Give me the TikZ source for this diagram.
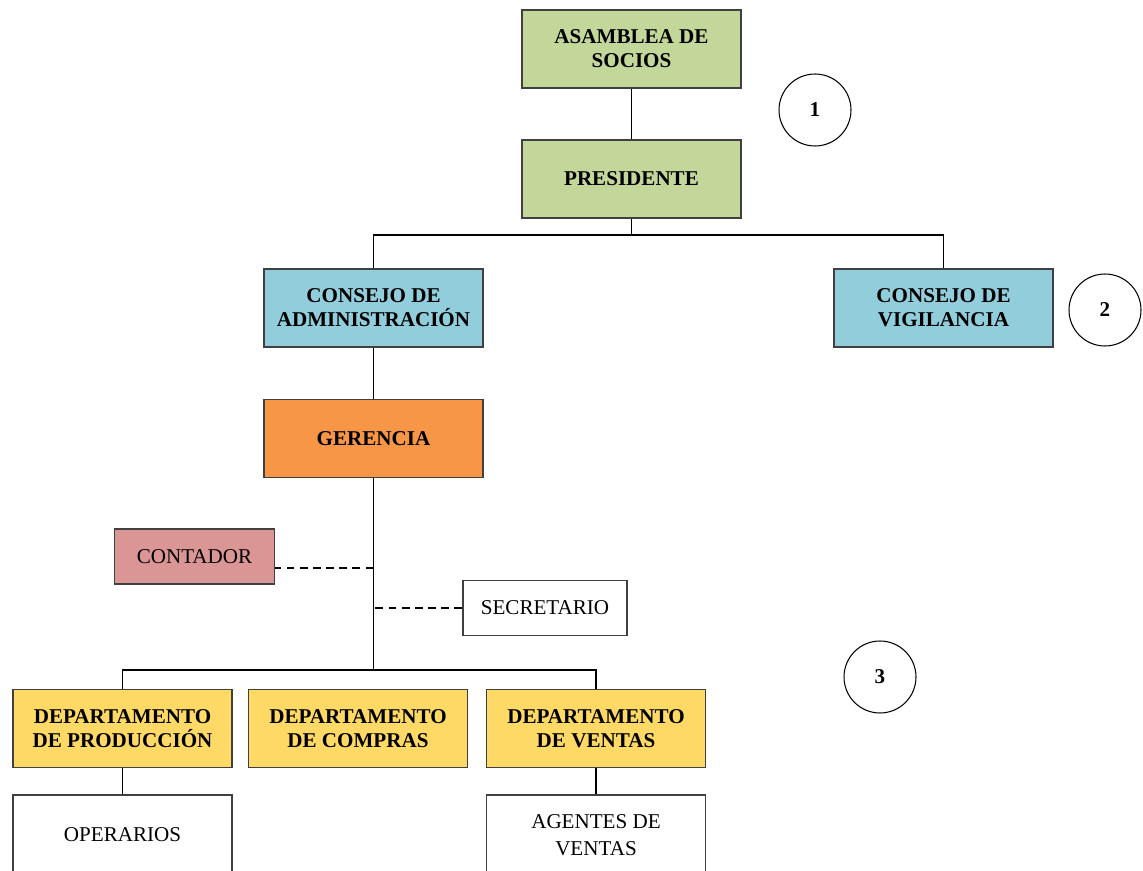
\documentclass[tikz,border=0pt]{standalone}
\usepackage{fontspec}
\setmainfont{Liberation Serif}
\usepackage{tikz}
\usetikzlibrary{positioning, calc}
\definecolor{socioverde}{RGB}{196, 215, 155}
\definecolor{consejoazul}{RGB}{146, 205, 220}
\definecolor{gerencianaranja}{RGB}{247, 150, 70}
\definecolor{contadorrosa}{RGB}{217, 150, 148}
\definecolor{deptoamarillo}{RGB}{255, 217, 102}
\definecolor{bordegris}{RGB}{64, 64, 64}

\begin{document}
\begin{tikzpicture}[
    x=0.02cm, y=-0.02cm,
    box/.style={rectangle, draw=bordegris, line width=0.8pt, minimum width=4.38cm, minimum height=1.56cm, align=center, font=\fontsize{12}{13.6}\selectfont\bfseries, inner sep=2pt},
    staff/.style={rectangle, draw=bordegris, line width=0.8pt, minimum width=3.2cm, minimum height=1.1cm, align=center, font=\fontsize{12}{14}\selectfont},
    low/.style={rectangle, draw=bordegris, line width=0.8pt, minimum width=4.38cm, minimum height=1.6cm, align=center, font=\fontsize{12}{15}\selectfont, fill=white},
    nivel/.style={circle, draw=black, line width=0.6pt, minimum size=1.44cm, font=\fontsize{12}{14}\selectfont\bfseries},
    line/.style={draw=black, line width=0.7pt},
    dashline/.style={draw=black, line width=0.7pt, dash pattern=on 4.5pt off 3pt}
]
    \useasboundingbox (0,0) rectangle (1143,871);

    % Nivel 1
    \node[box, fill=socioverde] (asamblea) at (631.5, 49) {ASAMBLEA DE\\SOCIOS};
    \node[box, fill=socioverde] (presidente) at (631.5, 179) {PRESIDENTE};
    \node[nivel] (uno) at (815, 110) {1};

    % Nivel 2
    \node[box, fill=consejoazul] (consejoadm) at (373.5, 308) {CONSEJO DE\\ADMINISTRACIÓN};
    \node[box, fill=consejoazul] (consejovig) at (943.5, 308) {CONSEJO DE\\VIGILANCIA};
    \node[nivel] (dos) at (1105, 310) {2};

    % Nivel 3
    \node[box, fill=gerencianaranja] (gerencia) at (373.5, 438.5) {GERENCIA};
    \node[staff, fill=contadorrosa] (contador) at (194.5, 556.5) {CONTADOR};
    \node[staff, fill=white, minimum width=3.28cm] (secretario) at (545, 608) {SECRETARIO};
    \node[nivel] (tres) at (880, 677) {3};

    \node[box, fill=deptoamarillo] (produccion) at (122.5, 728.5) {DEPARTAMENTO\\DE PRODUCCIÓN};
    \node[box, fill=deptoamarillo] (compras) at (358, 728.5) {DEPARTAMENTO\\DE COMPRAS};
    \node[box, fill=deptoamarillo] (ventas) at (596, 728.5) {DEPARTAMENTO\\DE VENTAS};

    \node[low] (operarios) at (122.5, 835) {OPERARIOS};
    \node[low] (agentes) at (596, 835) {AGENTES DE\\VENTAS};

    % Lineas
    \coordinate (barra1) at (631.5, 235);
    \coordinate (barra2) at (373.5, 670);
    \coordinate (apoyo) at (373.5, 568);

    \draw[line] (asamblea) -- (presidente);
    \draw[line] (presidente) -- (barra1);
    \draw[line] (consejoadm.north) |- (barra1) -| (consejovig.north);
    \draw[line] (consejoadm) -- (gerencia);
    \draw[line] (gerencia) -- (barra2);
    \draw[line] (produccion.north) |- (barra2) -| (ventas.north);
    \draw[dashline] (apoyo) -- (apoyo -| contador.east);
    \draw[dashline] (secretario.west) -- (secretario.west -| gerencia.south);
    \draw[line] (produccion) -- (operarios);
    \draw[line] (ventas) -- (agentes);

\end{tikzpicture}
\end{document}
